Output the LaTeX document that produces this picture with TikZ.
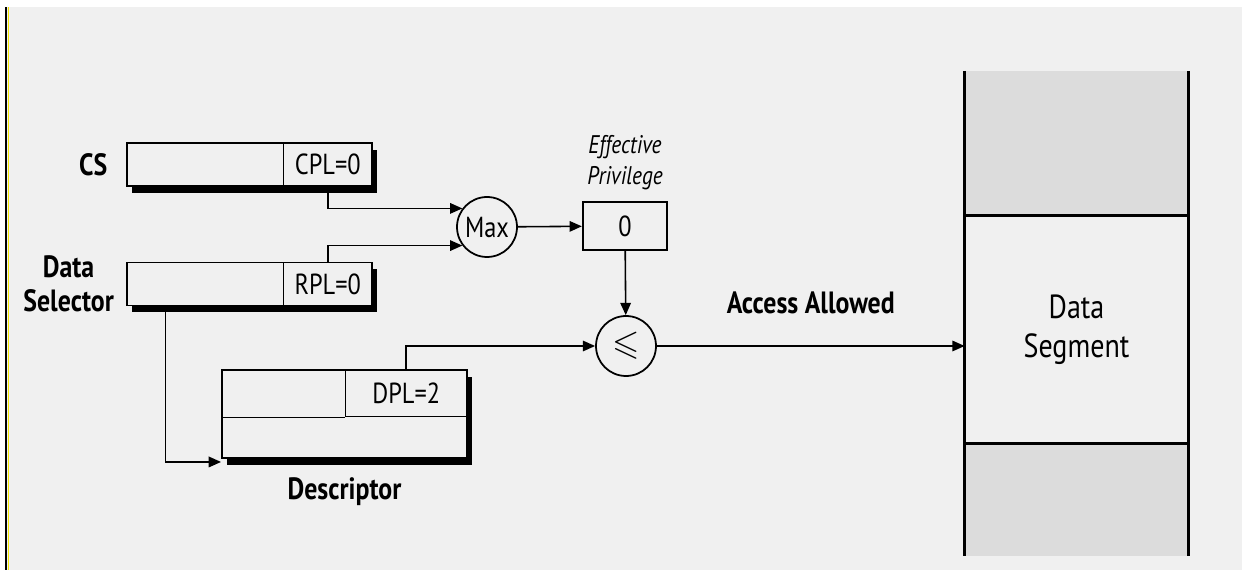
\documentclass[tikz,border=0pt]{standalone}
\usepackage{amssymb}
\usepackage{fontspec}
\setmainfont{PT Sans}[FakeStretch=0.84]
\usetikzlibrary{positioning,arrows.meta,shadows,calc}

\definecolor{bggray}{HTML}{F0F0F0}
\definecolor{seggray}{HTML}{DCDCDC}
\definecolor{markyellow}{HTML}{F2E600}

\tikzset{
  reg/.style={draw, line width=1.1pt, fill=bggray, minimum width=4.9cm,
    minimum height=0.86cm, inner sep=0pt,
    drop shadow={shadow xshift=0.1cm, shadow yshift=-0.14cm, fill=black, opacity=1}},
  field/.style={draw, line width=0.8pt, minimum height=0.86cm, inner sep=0pt,
    font=\fontsize{16.5}{19}\selectfont},
  lbl/.style={font=\fontsize{17.5}{19.5}\selectfont\bfseries, align=center},
  op/.style={circle, draw, line width=1pt, minimum size=1.2cm, inner sep=0pt,
    font=\fontsize{16.5}{19}\selectfont},
  conn/.style={line width=0.9pt, -{Triangle[length=7pt,width=6pt]}},
  segline/.style={line width=1.6pt},
}

\begin{document}
\begin{tikzpicture}

  % background and left margin marks
  \useasboundingbox (0,0) rectangle (24.84,11.4);
  \fill[bggray] (0.14,0) rectangle (24.84,11.26);
  \draw[line width=1.2pt] (0.12,0) -- (0.12,11.26);
  \draw[markyellow, line width=1pt] (0.17,0) -- (0.17,11.26);

  % code segment register
  \node[reg] (cs) at (4.99,8.11) {};
  \node[field, anchor=east, minimum width=1.78cm] (cpl) at (cs.east) {CPL=0};
  \node[lbl, left=0.25cm of cs] (cslbl) {CS};

  % data selector
  \node[reg] (ds) at (4.99,5.72) {};
  \node[field, anchor=east, minimum width=1.78cm] (rpl) at (ds.east) {RPL=0};
  \node[lbl, left=0.12cm of ds] (dslbl) {Data\\Selector};

  % max and effective privilege
  \node[op] (max) at (9.74,6.86) {Max};
  \node[draw, line width=1.3pt, minimum width=1.68cm, minimum height=0.96cm,
    font=\fontsize{16.5}{19}\selectfont] (eff) at (12.5,6.88) {0};
  \node[font=\fontsize{14.5}{17.5}\selectfont\itshape, align=center, above=0.1cm of eff]
    (efflbl) {Effective\\Privilege};

  % compare
  \node[op, font=\fontsize{20}{22}\selectfont] (le) at (12.52,4.48) {$\leqslant$};

  % descriptor
  \node[reg, minimum height=1.76cm] (desc) at (6.89,3.12) {};
  \node[field, anchor=north east, minimum width=2.44cm, minimum height=0.94cm]
    (dpl) at (desc.north east) {DPL=2};
  \draw[line width=0.8pt] (desc.west |- dpl.south) -- (dpl.south west);
  \node[lbl, below=0.25cm of desc] (desclbl) {Descriptor};

  % data segment
  \node[minimum width=4.46cm, minimum height=4.54cm, inner sep=0pt, align=center,
    font=\fontsize{19}{22}\selectfont] (seg) at (21.53,4.81) {Data\\Segment};
  \node[fill=seggray, minimum width=4.46cm, minimum height=2.88cm, inner sep=0pt,
    above=0pt of seg] (segtop) {};
  \node[fill=seggray, minimum width=4.46cm, minimum height=2.24cm, inner sep=0pt,
    below=0pt of seg] (segbot) {};
  \draw[segline] (seg.north west) -- (seg.north east)
                 (seg.south west) -- (seg.south east);
  \draw[segline] (segtop.north west) -- (segbot.south west)
                 (segtop.north east) -- (segbot.south east);

  % connectors
  \draw[conn] (cpl.south) |- (max.143);
  \draw[conn] (rpl.north) |- (max.217);
  \draw[conn] (max) -- (eff);
  \draw[conn] (eff) -- (le);
  \draw[conn] (dpl.north) |- (le);
  \draw[conn] ($(ds.south west)!0.16!(ds.south east)$) |- ([yshift=-0.06cm]desc.south west);
  \draw[conn] (le) -- (le -| seg.west)
    node[lbl, midway, above=0.5cm] (access) {Access Allowed};

\end{tikzpicture}
\end{document}
